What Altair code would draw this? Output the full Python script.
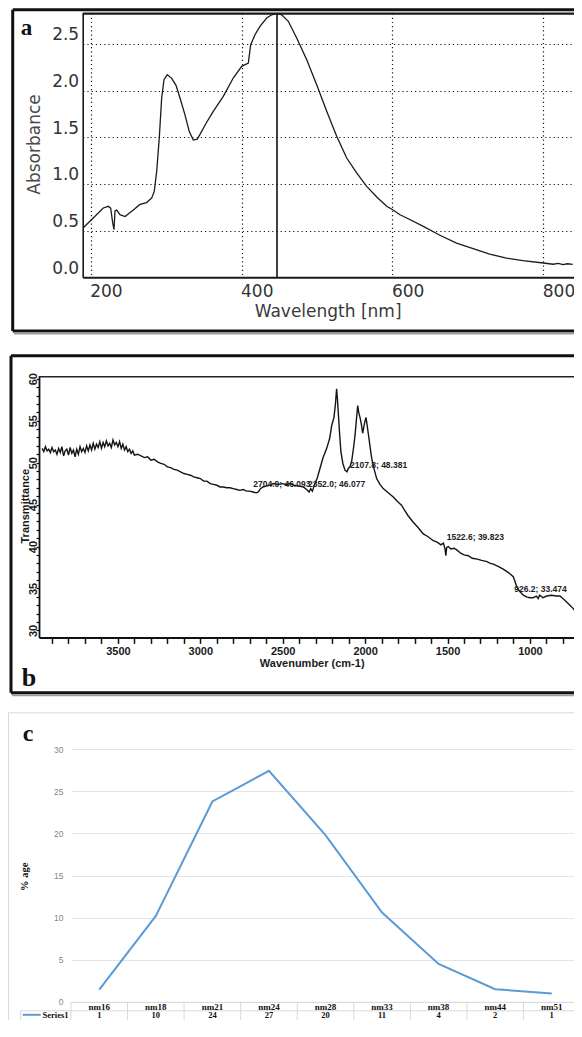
import altair as alt
import pandas as pd

# ---------------- data ----------------
# (a) UV-vis absorbance spectrum
uv_wavelength = [190.2, 205.7, 216.7, 223.3, 226.5, 229.2, 230.9, 232.2, 234.5, 238.8,
                 245.5, 256.5, 265.3, 274.2, 280.9, 284.3, 287.5, 290.9, 294.1, 297.2,
                 301.5, 307.4, 313.1, 318.4, 325.0, 330.7, 336.0, 341.3, 344.9, 353.0,
                 362.5, 375.8, 389.0, 400.2, 409.0, 412.1, 417.8, 424.4, 433.3, 440.0,
                 447.0, 453.2, 462.0, 473.1, 486.4, 499.6, 512.9, 526.1, 539.4, 552.6,
                 565.9, 579.2, 592.4, 601.0, 610.0, 619.0, 641.0, 663.0, 685.0, 707.0,
                 729.0, 751.0, 773.0, 800.0, 813.0, 820.0, 826.0, 832.0, 839.0]
uv_absorbance = [0.53, 0.653, 0.742, 0.76, 0.74, 0.58, 0.51, 0.71, 0.72, 0.67,
                 0.65, 0.72, 0.78, 0.80, 0.85, 0.92, 1.135, 1.49, 1.92, 2.115,
                 2.17, 2.13, 2.055, 1.92, 1.74, 1.56, 1.47, 1.48, 1.53, 1.65,
                 1.777, 1.938, 2.134, 2.259, 2.294, 2.49, 2.597, 2.687, 2.776, 2.811,
                 2.825, 2.811, 2.741, 2.562, 2.330, 2.062, 1.777, 1.510, 1.277, 1.117,
                 0.974, 0.86, 0.76, 0.72, 0.67, 0.635, 0.546, 0.450, 0.367, 0.306,
                 0.249, 0.206, 0.178, 0.153, 0.140, 0.148, 0.135, 0.145, 0.138]
uv_peak = [447.0]
uv_x_ticks = [200, 400, 600, 800]
uv_y_ticks = [0.0, 0.5, 1.0, 1.5, 2.0, 2.5]

# (b) FTIR transmittance spectrum
ir_wavenumber = [3960, 3950, 3940, 3930, 3920, 3910, 3900, 3890, 3880, 3870,
                 3860, 3850, 3840, 3830, 3820, 3810, 3800, 3790, 3780, 3770,
                 3760, 3750, 3740, 3730, 3720, 3710, 3700, 3690, 3680, 3670,
                 3660, 3650, 3640, 3630, 3620, 3610, 3600, 3590, 3580, 3570,
                 3560, 3550, 3540, 3530, 3520, 3510, 3500, 3490, 3480, 3470,
                 3460, 3450, 3440, 3430, 3420, 3410, 3400, 3380, 3360, 3340,
                 3320, 3300, 3280, 3260, 3240, 3220, 3200, 3180, 3160, 3140,
                 3120, 3100, 3080, 3060, 3040, 3020, 3000, 2980, 2960, 2940,
                 2920, 2900, 2880, 2860, 2840, 2820, 2800, 2780, 2760, 2740,
                 2720, 2700, 2680, 2660, 2648, 2635, 2620, 2600, 2580, 2557,
                 2530, 2500, 2480, 2456, 2430, 2400, 2375, 2355, 2340, 2330,
                 2320, 2310, 2304, 2290, 2274, 2255, 2233, 2215, 2203, 2189,
                 2180, 2173, 2168, 2163, 2155, 2147, 2135, 2122, 2110, 2102,
                 2092, 2082, 2070, 2061, 2052, 2045, 2038, 2031, 2023, 2015,
                 2005, 1995, 1988, 1981, 1970, 1960, 1945, 1930, 1910, 1890,
                 1860, 1829, 1800, 1778, 1760, 1740, 1708, 1680, 1647, 1620,
                 1600, 1586, 1560, 1540, 1525, 1515, 1510, 1505, 1495, 1480,
                 1460, 1444, 1420, 1400, 1374, 1350, 1320, 1293, 1260, 1240,
                 1222, 1190, 1162, 1130, 1101, 1090, 1080, 1060, 1040, 1020,
                 1000, 981, 960, 950, 941, 920, 898, 870, 840, 818,
                 800, 777, 757, 737, 715, 700]
ir_transmittance = [51.7, 51.3, 51.9, 51.4, 51.6, 51.2, 51.8, 51.3, 51.5, 51.0,
                    51.7, 51.2, 51.9, 50.8, 51.4, 51.6, 50.9, 51.8, 51.1, 51.5,
                    50.7, 51.6, 51.0, 51.9, 51.3, 51.7, 51.2, 52.0, 51.4, 52.1,
                    51.5, 52.3, 51.6, 52.2, 51.8, 52.5, 51.7, 52.4, 51.9, 52.6,
                    52.0, 52.3, 51.8, 52.7, 52.1, 52.4, 51.9, 52.5, 51.7, 52.2,
                    51.5, 51.9, 51.3, 51.6, 51.1, 51.4, 50.9, 51.0, 50.8, 50.6,
                    50.7, 50.3, 50.4, 50.1, 49.9, 49.8, 49.5, 49.4, 49.2, 49.1,
                    48.9, 48.7, 48.6, 48.5, 48.3, 48.2, 48.1, 47.8, 47.8, 47.5,
                    47.4, 47.3, 47.1, 47.1, 47.0, 47.0, 46.9, 46.8, 46.7, 46.8,
                    46.6, 46.6, 46.5, 46.4, 46.5, 46.9, 47.1, 47.2, 47.3, 47.5,
                    47.4, 47.5, 47.4, 47.5, 47.3, 47.2, 47.1, 46.8, 46.5, 46.9,
                    46.6, 47.2, 47.5, 48.2, 49.3, 50.6, 51.7, 52.9, 54.4, 55.4,
                    57.0, 58.8, 57.6, 56.0, 53.5, 51.3, 49.9, 49.1, 48.9, 49.3,
                    49.5, 50.1, 51.8, 53.3, 55.3, 56.8, 55.9, 55.4, 54.6, 53.5,
                    54.6, 55.4, 54.5, 53.5, 51.9, 50.5, 49.2, 48.1, 47.4, 46.9,
                    46.4, 45.9, 45.3, 44.9, 44.3, 43.7, 42.9, 42.3, 41.5, 41.2,
                    40.9, 40.7, 40.5, 40.2, 40.4, 39.7, 38.9, 39.9, 40.0, 39.7,
                    39.8, 39.6, 39.2, 39.0, 38.9, 38.6, 38.5, 38.35, 38.2, 38.0,
                    37.9, 37.6, 37.3, 36.9, 36.4, 35.8, 35.2, 34.6, 34.2, 34.0,
                    33.9, 33.9, 34.1, 33.8, 34.2, 33.9, 34.1, 34.2, 34.1, 34.1,
                    33.8, 33.4, 33.0, 32.6, 32.0, 31.4]
ir_x_ticks = list(range(700, 4000, 100))
ir_y_ticks = list(range(30, 61))
ir_note_text = ["2704.0; 46.093", "2352.0; 46.077", "2107.8; 48.381",
                "1522.6; 39.823", "926.2; 33.474"]
ir_note_wn = [2679, 2347, 2092, 1505, 1095]
ir_note_t = [47.49, 47.49, 49.67, 41.14, 34.97]

# (c) particle size distribution
size_class = ["nm16", "nm18", "nm21", "nm24", "nm28", "nm33", "nm38", "nm44", "nm51"]
size_pct = [1.45, 10.2, 23.8, 27.45, 19.8, 10.6, 4.5, 1.5, 1.0]
size_table = ["1", "10", "24", "27", "20", "11", "4", "2", "1"]
size_y_ticks = [0, 5, 10, 15, 20, 25, 30]

df_a = pd.DataFrame({"wl": uv_wavelength, "ab": uv_absorbance})
df_peak = pd.DataFrame({"wl": uv_peak})
df_b = pd.DataFrame({"wn": ir_wavenumber, "t": ir_transmittance})
df_notes = pd.DataFrame({"wn": ir_note_wn, "t": ir_note_t, "txt": ir_note_text})
df_c = pd.DataFrame({"cat": size_class, "pct": size_pct, "tbl": size_table})

# ---------------- layout helpers ----------------
OX = 39.0                                   # page x of the shared origin
TOP = {"a": 15.0, "b": 279.3, "c": 638.7}   # page y of each view's origin
W = 541
C_ZERO = 1002.5                             # page y of the 0 line in panel c
BOTTOM = 1021.0                             # lowest drawn page y
H_A, H_B, H_C = 264.3, 359.4, C_ZERO - TOP["c"]

SANS_A = "DejaVu Sans"
SERIF = "Liberation Serif"
ARIAL = "Liberation Sans"


def hx(p):
    return round(p - OX, 2)


def vy(panel, p):
    return round(p - TOP[panel], 2)


def hline(panel, x1, x2, y, color, width):
    return alt.Chart().mark_rule(color=color, strokeWidth=width).encode(
        x=alt.value(hx(x1)), x2=alt.value(hx(x2)), y=alt.value(vy(panel, y)))


def vline(panel, x, y1, y2, color, width):
    return alt.Chart().mark_rule(color=color, strokeWidth=width).encode(
        x=alt.value(hx(x)), y=alt.value(vy(panel, y1)), y2=alt.value(vy(panel, y2)))


def letter(panel, s, x, y, size):
    return alt.Chart().mark_text(font=SERIF, fontWeight="bold", fontSize=size,
                                 align="left", baseline="alphabetic", color="#111").encode(
        x=alt.value(hx(x)), y=alt.value(vy(panel, y)), text=alt.value(s))


# ---------------- panel a ----------------
xa = alt.Scale(domain=[189.4, 848.7], range=[hx(82.7), W], nice=False, zero=False)
ya = alt.Scale(domain=[0, 2.83], nice=False, zero=False)
axis_a_x = alt.Axis(values=uv_x_ticks, grid=True, gridDash=[1.2, 3], gridColor="#1a1a1a",
                    gridWidth=1.2, ticks=False, tickSize=0, domainColor="#1a1a1a",
                    domainWidth=2, labelAlign="left", labelBaseline="top", labelPadding=6,
                    labelOffset=-1, labelFont=SANS_A, labelFontSize=17, labelColor="#333333",
                    labelFlush=False, labelOverlap=False, title="Wavelength [nm]",
                    titleFont=SANS_A, titleFontSize=17, titleFontWeight="normal",
                    titleColor="#3a3a3a", titleX=hx(327.6), titleY=33.7,
                    titleAlign="center", titleBaseline="middle")
axis_a_y = alt.Axis(values=uv_y_ticks, format=".1f", grid=True, gridDash=[1.2, 3],
                    gridColor="#1a1a1a", gridWidth=1.2, ticks=False, tickSize=0,
                    domainColor="#1a1a1a", domainWidth=1.6, offset=-hx(82.7),
                    labelBaseline="bottom", labelPadding=4, labelFont=SANS_A,
                    labelFontSize=17, labelColor="#333333", labelFlush=False,
                    labelOverlap=False, title="Absorbance", titleFont=SANS_A,
                    titleFontSize=17, titleFontWeight="normal", titleColor="#4a4a4a",
                    titleAngle=270, titleX=35 - 82.7, titleY=131, titleAlign="center",
                    titleBaseline="middle")

line_a = alt.Chart(df_a).mark_line(color="#1b1b1b", strokeWidth=1.3).encode(
    x=alt.X("wl:Q", scale=xa, axis=axis_a_x),
    y=alt.Y("ab:Q", scale=ya, axis=axis_a_y))
peak_a = alt.Chart(df_peak).mark_rule(color="#111111", strokeWidth=1.6).encode(
    x=alt.X("wl:Q", scale=xa, axis=axis_a_x))

chart_a = alt.layer(
    line_a, peak_a,
    hline("a", 82.7, 579, 15.6, "#1a1a1a", 2.4),
    hline("a", 12.7, 578, 11.7, "#111111", 3),
    hline("a", 12.7, 578, 333, "#111111", 3),
    hline("a", 14, 578, 335.6, "#9d9d9d", 2),
    vline("a", 12.7, 11.7, 333, "#111111", 3),
    letter("a", "a", 20.7, 37.3, 23),
).properties(width=W, height=H_A)

# ---------------- panel b ----------------
xb = alt.Scale(domain=[696, 3979], reverse=True, range=[0, W], nice=False, zero=False)
yb = alt.Scale(domain=[29.17, 60.36], range=[H_B, vy("b", 377)], nice=False, zero=False)
axis_b_x = alt.Axis(values=ir_x_ticks,
                    labelExpr="datum.value % 500 === 0 ? format(datum.value, 'd') : ''",
                    grid=False, tickSize=6, tickColor="#111111", tickWidth=1.5,
                    domainColor="#111111", domainWidth=2, labelFont=ARIAL,
                    labelFontWeight="bold", labelFontSize=11, labelColor="#1a1a1a",
                    labelBaseline="top", labelPadding=2, labelFlush=False,
                    labelOverlap=False, title="Wavenumber (cm-1)", titleFont=ARIAL,
                    titleFontWeight="bold", titleFontSize=11, titleColor="#1a1a1a",
                    titleX=hx(311.7), titleY=26.3, titleAlign="center",
                    titleBaseline="middle")
axis_b_y = alt.Axis(values=ir_y_ticks,
                    labelExpr="datum.value % 5 === 0 ? format(datum.value, 'd') : ''",
                    grid=False, tickSize=3, tickColor="#111111", tickWidth=1.2,
                    domainColor="#111111", domainWidth=1.8, labelAngle=270,
                    labelAlign="center", labelBaseline="alphabetic", labelPadding=0,
                    labelFont=ARIAL, labelFontWeight="bold", labelFontSize=11,
                    labelColor="#1a1a1a", labelFlush=False, labelOverlap=False,
                    title="Transmittance", titleFont=ARIAL, titleFontWeight="bold",
                    titleFontSize=11, titleColor="#1a1a1a", titleAngle=270,
                    titleX=25 - 39, titleY=vy("b", 507), titleAlign="center",
                    titleBaseline="middle")

line_b = alt.Chart(df_b).mark_line(color="#151515", strokeWidth=1.4).encode(
    x=alt.X("wn:Q", scale=xb, axis=axis_b_x),
    y=alt.Y("t:Q", scale=yb, axis=axis_b_y))
notes_b = alt.Chart(df_notes).mark_text(font=ARIAL, fontWeight="bold", fontSize=8.5,
                                        align="left", baseline="middle",
                                        color="#222222").encode(
    x=alt.X("wn:Q", scale=xb, axis=axis_b_x),
    y=alt.Y("t:Q", scale=yb, axis=axis_b_y),
    text="txt:N")

chart_b = alt.layer(
    line_b, notes_b,
    hline("b", 39, 579, 378, "#222222", 1.5),
    hline("b", 11, 578, 357, "#111111", 3),
    hline("b", 11, 578, 694, "#111111", 3),
    hline("b", 12, 578, 696.6, "#9d9d9d", 2),
    vline("b", 11, 357, 694, "#111111", 3),
    letter("b", "b", 21.7, 687, 26),
).properties(width=W, height=H_B)

# ---------------- panel c ----------------
xc = alt.Scale(domain=size_class, range=[hx(71), W], paddingInner=0, paddingOuter=0)
yc = alt.Scale(domain=[0, 30], range=[H_C, vy("c", 750)], nice=False, zero=False)
axis_c_x = alt.Axis(grid=False, ticks=False, tickSize=0, domainColor="#d9d9d9",
                    domainWidth=1, labelFont=SERIF, labelFontWeight="bold",
                    labelFontSize=9, labelColor="#111111", labelBaseline="middle",
                    labelPadding=4.5, labelAngle=0, labelFlush=False, title="")
axis_c_y = alt.Axis(values=size_y_ticks, grid=True, gridColor="#e4e4e4", gridWidth=1,
                    domain=False, ticks=False, tickSize=0, offset=-hx(71),
                    labelPadding=8, labelFont=ARIAL, labelFontSize=8.5,
                    labelColor="#858585", labelBaseline="middle", labelFlush=False,
                    title="% age", titleFont=SERIF, titleFontWeight="bold",
                    titleFontSize=10.5, titleColor="#111111", titleAngle=270,
                    titleX=24 - 71, titleY=vy("c", 877), titleAlign="center",
                    titleBaseline="middle")

ROW_LINE = C_ZERO + 9.0
ROW_TEXT = C_ZERO + 13.5

xc_enc = dict(sort=size_class, scale=xc, axis=axis_c_x)
line_c = alt.Chart(df_c).mark_line(color="#5B9BD5", strokeWidth=2).encode(
    x=alt.X("cat:N", **xc_enc),
    y=alt.Y("pct:Q", scale=yc, axis=axis_c_y))
cells_c = alt.Chart(df_c).mark_rule(color="#d9d9d9", strokeWidth=1).encode(
    x=alt.X("cat:N", bandPosition=0, **xc_enc),
    y=alt.value(H_C), y2=alt.value(vy("c", BOTTOM)))
values_c = alt.Chart(df_c).mark_text(font=SERIF, fontWeight="bold", fontSize=8.5,
                                     baseline="middle", color="#111111").encode(
    x=alt.X("cat:N", **xc_enc),
    y=alt.value(vy("c", ROW_TEXT)), text="tbl:N")
series_lbl = alt.Chart().mark_text(font=SERIF, fontWeight="bold", fontSize=8.5,
                                   align="right", baseline="middle",
                                   color="#111111").encode(
    x=alt.value(hx(68.5)), y=alt.value(vy("c", ROW_TEXT)), text=alt.value("Series1"))
legend_key = alt.Chart().mark_rule(color="#5B9BD5", strokeWidth=2).encode(
    x=alt.value(hx(22.7)), x2=alt.value(hx(40.7)), y=alt.value(vy("c", ROW_TEXT - 0.5)))

chart_c = alt.layer(
    line_c, cells_c, values_c, series_lbl, legend_key,
    hline("c", 20.7, 580, ROW_LINE, "#d9d9d9", 1),
    vline("c", 20.7, ROW_LINE, BOTTOM, "#d9d9d9", 1),
    hline("c", 8.5, 580, 713.5, "#d9d9d9", 1),
    vline("c", 8.5, 713.5, BOTTOM, "#d9d9d9", 1),
    letter("c", "c", 22.7, 741.7, 24),
).properties(width=W, height=H_C)

# negative right/bottom padding trims the parts that the reference crops off,
# keeping the page inside the 582 x 1037 window
chart = alt.vconcat(chart_a, chart_b, chart_c, spacing=0, bounds="flush").properties(
    padding={"left": 0, "top": 0, "right": -9, "bottom": -1},
    background="white"
).configure_view(strokeWidth=0, stroke="transparent")

chart.save("out.html", embed_options={"renderer": "svg", "actions": False})
